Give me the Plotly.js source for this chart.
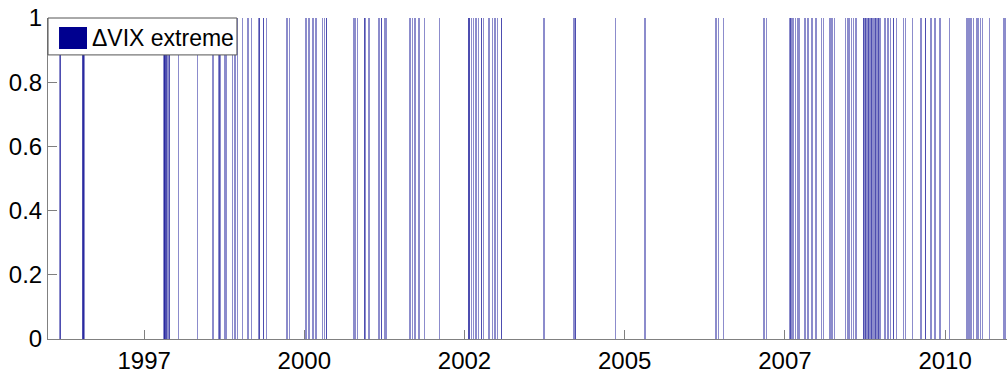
<!DOCTYPE html>
<html>
<head>
<meta charset="utf-8">
<script src="https://cdn.plot.ly/plotly-3.0.1.min.js"></script>
<style>
html, body { margin: 0; padding: 0; background: #fff; overflow: hidden; }
#chart { width: 1008px; height: 375px; }
</style>
</head>
<body>
<div id="chart"></div>
<script>
// Dates (decimal years) on which the ΔVIX extreme indicator equals 1
const eventYears = [
  1996.187, 1996.190,
  1996.538, 1996.546, 1996.554, 1996.561,
  1997.811, 1997.818, 1997.826, 1997.842, 1997.858, 1997.874, 1997.890, 1997.900,
  1998.033, 1998.333,
  1998.562, 1998.585,
  1998.668, 1998.677, 1998.692,
  1998.749, 1998.765, 1998.785,
  1998.884, 1998.918, 1998.960,
  1999.032, 1999.121, 1999.179,
  1999.283, 1999.297, 1999.306,
  1999.360, 1999.366, 1999.413,
  1999.716, 1999.740, 1999.770,
  2000.017, 2000.040, 2000.065, 2000.086,
  2000.135, 2000.182,
  2000.281, 2000.318, 2000.340, 2000.345,
  2000.776, 2000.800, 2000.833,
  2000.937, 2000.945, 2000.960,
  2001.009, 2001.165, 2001.205, 2001.210, 2001.260, 2001.283,
  2001.649, 2001.685, 2001.727, 2001.789, 2001.872,
  2002.106,
  2002.556, 2002.566, 2002.576, 2002.584, 2002.610, 2002.638,
  2002.679, 2002.715, 2002.766, 2002.771, 2002.793,
  2002.872, 2002.896, 2002.933, 2002.975,
  2003.011, 2003.072, 2003.077,
  2003.740,
  2004.198, 2004.225, 2004.238,
  2004.853, 2005.316,
  2006.424, 2006.460, 2006.538,
  2007.174, 2007.212,
  2007.580, 2007.590, 2007.603, 2007.617, 2007.640, 2007.670, 2007.693, 2007.720,
  2007.813, 2007.852, 2007.868, 2007.922, 2007.985,
  2008.074, 2008.105, 2008.201, 2008.206, 2008.234, 2008.270,
  2008.452, 2008.476, 2008.500, 2008.542, 2008.567, 2008.609,
  2008.724, 2008.728, 2008.742, 2008.755, 2008.759, 2008.772, 2008.788,
  2008.802, 2008.806, 2008.819, 2008.835, 2008.849, 2008.853, 2008.866,
  2008.882, 2008.897, 2008.911, 2008.915, 2008.929, 2008.944, 2008.958, 2008.962,
  2008.984, 2009.058, 2009.066, 2009.108, 2009.152, 2009.190, 2009.197, 2009.244,
  2009.356, 2009.378, 2009.494, 2009.624, 2009.690, 2009.698, 2009.779, 2009.842, 2009.920,
  2010.065,
  2010.336, 2010.345, 2010.360, 2010.389, 2010.410, 2010.438, 2010.489,
  2010.514, 2010.550, 2010.590, 2010.689, 2010.907, 2010.934
];
// indicator value on those dates
const extremeFlag = eventYears.map(() => 1);

const xTickVals = [1997.5, 2000, 2002.5, 2005, 2007.5, 2010];
const xTickText = ['1997', '2000', '2002', '2005', '2007', '2010'];
const yTickVals = [0, 0.2, 0.4, 0.6, 0.8, 1];
const yTickText = ['0', '0.2', '0.4', '0.6', '0.8', '1'];
const seriesName = '\u0394VIX extreme';

const navy = 'rgb(0,0,143)';
const axisGrey = '#808080';
const fontFam = '"Liberation Sans", Arial, Helvetica, sans-serif';

const trace = {
  type: 'bar',
  x: eventYears,
  y: extremeFlag,
  width: 1 / 365,
  name: seriesName,
  marker: { color: navy, opacity: 0.45, line: { width: 0 } },
  hoverinfo: 'x+y',
  showlegend: false
};

const layout = {
  width: 1008,
  height: 375,
  margin: { l: 48, r: 1, t: 18, b: 36, pad: 0 },
  paper_bgcolor: '#fff',
  plot_bgcolor: '#fff',
  showlegend: false,
  font: { family: fontFam, size: 24, color: '#000' },
  xaxis: {
    type: 'linear',
    range: [1996, 2010.966],
    tickmode: 'array',
    tickvals: xTickVals,
    ticktext: xTickText,
    ticks: 'inside',
    ticklen: 9,
    tickwidth: 1,
    tickcolor: axisGrey,
    showline: true,
    linecolor: axisGrey,
    linewidth: 1,
    showgrid: false,
    zeroline: false,
    tickfont: { family: fontFam, size: 24, color: '#000' },
    fixedrange: true
  },
  yaxis: {
    range: [0, 1],
    tickmode: 'array',
    tickvals: yTickVals,
    ticktext: yTickText,
    ticks: 'inside',
    ticklen: 9,
    tickwidth: 1,
    tickcolor: axisGrey,
    showline: true,
    linecolor: axisGrey,
    linewidth: 1,
    showgrid: false,
    zeroline: false,
    tickfont: { family: fontFam, size: 24, color: '#000' },
    fixedrange: true
  },
  shapes: [
    { type: 'rect', xref: 'paper', yref: 'paper', layer: 'above',
      x0: 0, x1: 0.197, y0: 0.885, y1: 1,
      fillcolor: '#fff', line: { color: '#555', width: 1 } },
    { type: 'rect', xref: 'paper', yref: 'paper', layer: 'above',
      x0: 0.0115, x1: 0.0407, y0: 0.9034, y1: 0.972,
      fillcolor: navy, line: { width: 0 } }
  ],
  annotations: [
    { xref: 'paper', yref: 'paper', x: 0.0435, y: 0.938,
      xanchor: 'left', yanchor: 'middle', showarrow: false,
      text: seriesName, font: { family: fontFam, size: 23, color: '#000' } }
  ]
};

Plotly.newPlot('chart', [trace], layout, { displayModeBar: false, responsive: false });
</script>
</body>
</html>
